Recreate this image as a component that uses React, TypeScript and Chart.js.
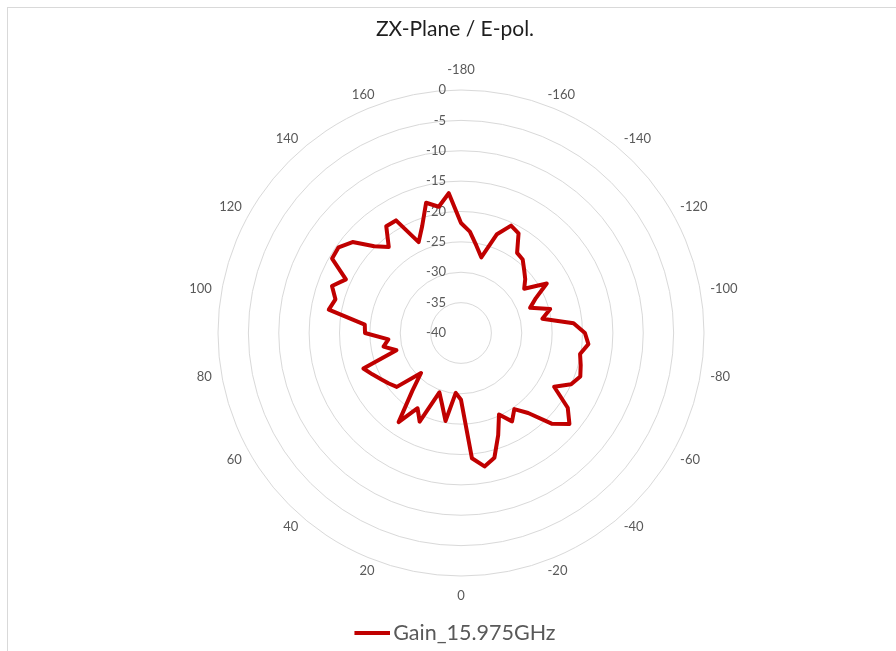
import React, { useEffect, useRef } from "react";
import { Chart, registerables } from "chart.js";

Chart.register(...registerables);

// ---- data ----
const angles: number[] = [
  -180, -175, -170, -165, -160, -155, -150, -145, -140, -135, -130, -125,
  -120, -115, -110, -105, -100, -95, -90, -85, -80, -75, -70, -65,
  -60, -55, -50, -45, -40, -35, -30, -25, -20, -15, -10, -5,
  0, 5, 10, 15, 20, 25, 30, 35, 40, 45, 50, 55,
  60, 65, 70, 75, 80, 85, 90, 95, 100, 105, 110, 115,
  120, 125, 130, 135, 140, 145, 150, 155, 160, 165, 170, 175,
];

const gain: number[] = [
  -21.9, -23.25, -25.4, -27.1, -22.7, -20.5, -21.05, -23.9, -24.2, -25.3, -26.2, -27.3,
  -23.7, -26.4, -27.9, -24.8, -26.4, -21.4, -19.6, -18.95, -20.1, -19.6, -19.1, -20.0,
  -22.3, -18.55, -16.7, -18.9, -22.8, -24.7, -23.2, -25.2, -22.1, -18.75, -17.7, -19.3,
  -29.0, -30.1, -25.3, -27.9, -29.6, -23.9, -25.7, -22.1, -27.5, -30.7, -26.2, -25.5,
  -24.8, -23.9, -22.9, -29.0, -27.05, -28.0, -24.2, -24.1, -17.9, -18.6, -17.4, -19.1,
  -15.5, -15.4, -16.7, -19.8, -21.5, -18.55, -18.6, -23.5, -21.3, -17.8, -18.9, -16.9,
];

const radialTicks: number[] = [0, -5, -10, -15, -20, -25, -30, -35, -40];
const shownAngles: number[] = [
  -180, -160, -140, -120, -100, -80, -60, -40, -20, 0, 20, 40, 60, 80, 100, 120, 140, 160,
];

const seriesName = "Gain_15.975GHz";
const chartTitle = "ZX-Plane / E-pol.";

// ---- layout / style ----
const W = 896;
const H = 651;
const CENTER_X = 461;
const CENTER_Y = 333;
const RADIUS = 243;
const FONT = "Lato";
const AXIS_FONT_SIZE = 13;
const AXIS_COLOR = "#595959";
const LINE_COLOR = "#C00000";

const framePlugin = {
  id: "excelFrame",
  beforeDraw(chart: any) {
    const ctx = chart.ctx;
    ctx.save();
    ctx.fillStyle = "#ffffff";
    ctx.fillRect(0, 0, chart.width, chart.height);
    ctx.strokeStyle = "#d9d9d9";
    ctx.lineWidth = 1;
    ctx.strokeRect(7.5, 7.5, chart.width + 20, chart.height + 20);
    ctx.restore();
  },
};

const axisTextPlugin = {
  id: "excelAxisText",
  beforeDatasetsDraw(chart: any) {
    const r = chart.scales.r;
    const ctx = chart.ctx;
    ctx.save();
    ctx.font = `${AXIS_FONT_SIZE}px ${FONT}`;
    ctx.fillStyle = AXIS_COLOR;
    ctx.textAlign = "right";
    ctx.textBaseline = "middle";
    for (const v of radialTicks) {
      const d = r.getDistanceFromCenterForValue(v);
      ctx.fillText(String(v), r.xCenter - 15, r.yCenter - d);
    }
    ctx.textAlign = "center";
    angles.forEach((a, i) => {
      if (!shownAngles.includes(a)) return;
      const ang = r.getIndexAngle(i);
      const s = Math.sin(ang);
      const c = Math.cos(ang);
      const text = String(a);
      const w = ctx.measureText(text).width;
      const R = r.drawingArea + 10;
      let x = r.xCenter + R * s;
      let y = r.yCenter - R * c;
      if (Math.abs(s) > 0.01) x += Math.sign(s) * (w / 2);
      else y -= Math.sign(c) * 10;
      ctx.fillText(text, x, y);
    });
    ctx.restore();
  },
};

export default function App() {
  const ref = useRef<HTMLCanvasElement | null>(null);

  useEffect(() => {
    if (!ref.current) return;
    // legend marker: a 36px red line, right-aligned inside a 44px image
    const legendLine = document.createElement("canvas");
    legendLine.width = 44;
    legendLine.height = 4;
    const lctx = legendLine.getContext("2d");
    if (lctx) {
      lctx.fillStyle = LINE_COLOR;
      lctx.fillRect(8, 0, 36, 4);
    }

    const chart = new Chart(ref.current, {
      type: "radar",
      data: {
        labels: angles.map(String),
        datasets: [
          {
            label: seriesName,
            data: gain,
            borderColor: LINE_COLOR,
            backgroundColor: LINE_COLOR,
            borderWidth: 4,
            borderJoinStyle: "round",
            fill: false,
            pointRadius: 0,
            pointHoverRadius: 0,
            tension: 0,
            clip: false,
          } as any,
        ],
      },
      options: {
        responsive: false,
        animation: false,
        devicePixelRatio: 1,
        layout: { padding: { top: 0, left: 14, right: 0, bottom: -3 } },
        plugins: {
          title: {
            display: true,
            text: chartTitle,
            color: "#1e1e1e",
            font: { family: FONT, size: 21, weight: "normal" },
            padding: { top: 17, bottom: 0 },
          },
          legend: {
            display: true,
            position: "bottom",
            labels: {
              usePointStyle: true,
              pointStyle: legendLine as any,
              pointStyleWidth: 28,
              color: AXIS_COLOR,
              font: { family: FONT, size: 21.5 },
              padding: 10,
            },
          },
          tooltip: { enabled: false },
        },
        scales: {
          r: {
            min: -40,
            max: 0,
            ticks: { display: false, stepSize: 5 },
            grid: { circular: true, color: "#d9d9d9", lineWidth: 1 },
            angleLines: { display: false },
            pointLabels: { display: false },
            afterFit: (scale: any) => {
              scale.xCenter = CENTER_X;
              scale.yCenter = CENTER_Y;
              scale.drawingArea = RADIUS;
            },
          } as any,
        },
      },
      plugins: [framePlugin, axisTextPlugin],
    });
    return () => chart.destroy();
  }, []);

  return (
    <div style={{ position: "absolute", left: 0, top: 0, width: W, height: H }}>
      <canvas ref={ref} width={W} height={H} style={{ display: "block" }} />
    </div>
  );
}
